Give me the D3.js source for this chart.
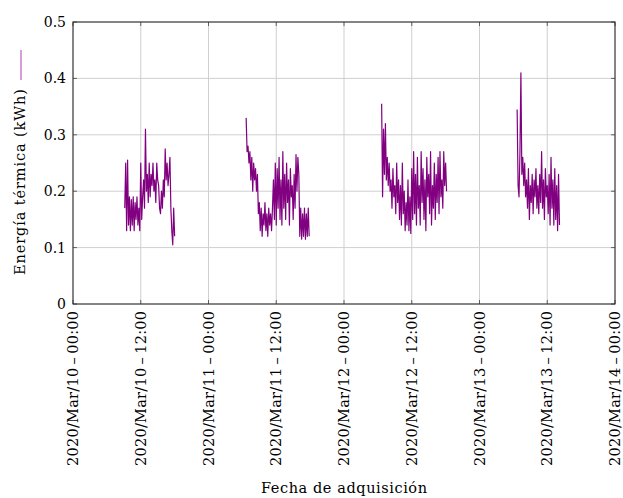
<!DOCTYPE html>
<html>
<head>
<meta charset="utf-8">
<script src="https://cdn.jsdelivr.net/npm/d3@7"></script>
<style>
  html, body { margin: 0; padding: 0; background: #fff; }
</style>
</head>
<body>
<svg id="chart" width="623" height="498"></svg>
<script>
// ---- data (10-minute readings, one block per acquisition day) ----
const stepMinutes = 10;
const dayStarts = ["2020-03-10T09:10:00Z", "2020-03-11T06:40:00Z", "2020-03-12T06:40:00Z", "2020-03-13T06:40:00Z"];
const day1 = [0.17,0.25,0.13,0.255,0.14,0.19,0.13,0.185,0.14,0.19,0.13,0.18,0.15,0.19,0.14,0.17,0.13,0.25,0.15,0.19,
  0.22,0.17,0.31,0.20,0.23,0.18,0.25,0.19,0.23,0.21,0.25,0.20,0.22,0.18,0.25,0.22,0.21,0.17,0.16,0.20,
  0.17,0.22,0.19,0.275,0.22,0.25,0.21,0.23,0.26,0.17,0.13,0.105,0.17,0.12];
const day2 = [0.33,0.27,0.28,0.25,0.27,0.22,0.26,0.20,0.25,0.22,0.24,0.20,0.23,
  0.16,0.18,0.13,0.17,0.12,0.16,0.14,0.18,0.13,0.16,0.12,0.17,0.14,0.16,0.13,0.17,
  0.22,0.15,0.25,0.14,0.24,0.17,0.26,0.15,0.22,0.14,0.27,0.17,0.23,0.15,0.25,0.18,0.22,0.14,0.24,0.19,0.21,0.15,0.23,0.17,0.265,0.20,0.26,
  0.23,0.12,0.17,0.115,0.16,0.12,0.17,0.115,0.16,0.12,0.17,0.12];
const day3 = [0.355,0.19,0.31,0.23,0.32,0.22,0.26,0.21,
  0.25,0.20,0.22,0.17,0.24,0.19,0.21,0.16,0.25,0.18,0.22,0.15,
  0.21,0.14,0.25,0.16,0.20,0.13,0.18,0.14,0.22,0.13,0.19,0.125,
  0.24,0.15,0.27,0.16,0.23,0.14,0.26,0.17,0.21,0.14,0.27,0.18,0.24,0.15,0.22,0.13,0.26,0.19,0.23,0.16,0.27,0.14,0.21,0.17,0.25,0.15,0.23,0.18,0.26,0.16,0.27,0.19,0.22,0.17,0.27,0.21,0.25,0.20];
const day4 = [0.345,0.21,0.19,0.27,0.41,0.23,0.26,0.21,0.25,0.19,0.22,0.17,0.24,0.15,0.21,0.18,0.23,0.16,0.22,0.19,
  0.24,0.17,0.21,0.16,0.23,0.18,0.27,0.17,0.22,0.15,0.24,0.19,0.21,0.16,0.23,0.14,0.26,0.17,0.22,0.14,
  0.24,0.15,0.21,0.13,0.23,0.14];
const dayValues = [day1, day2, day3, day4];

const xDomain = ["2020-03-10T00:00:00Z", "2020-03-14T00:00:00Z"];
const xTickTimes = ["2020-03-10T00:00:00Z","2020-03-10T12:00:00Z","2020-03-11T00:00:00Z","2020-03-11T12:00:00Z",
  "2020-03-12T00:00:00Z","2020-03-12T12:00:00Z","2020-03-13T00:00:00Z","2020-03-13T12:00:00Z","2020-03-14T00:00:00Z"];
const xTickLabels = ["2020/Mar/10\u2009\u2013\u200900:00","2020/Mar/10\u2009\u2013\u200912:00","2020/Mar/11\u2009\u2013\u200900:00","2020/Mar/11\u2009\u2013\u200912:00",
  "2020/Mar/12\u2009\u2013\u200900:00","2020/Mar/12\u2009\u2013\u200912:00","2020/Mar/13\u2009\u2013\u200900:00","2020/Mar/13\u2009\u2013\u200912:00","2020/Mar/14\u2009\u2013\u200900:00"];
const yTicks = [0, 0.1, 0.2, 0.3, 0.4, 0.5];
const yTickLabels = ["0", "0.1", "0.2", "0.3", "0.4", "0.5"];
const yTitle = "Energía térmica (kWh)";
const xTitle = "Fecha de adquisición";

// ---- layout ----
const FONT = "'DejaVu Serif', 'Liberation Serif', serif";
const L = 73, R = 615, T = 22, B = 304;
const svg = d3.select("#chart");
const x = d3.scaleUtc().domain(xDomain.map(d => new Date(d))).range([L, R]);
const y = d3.scaleLinear().domain([0, 0.5]).range([B, T]);

// grid
const gx = svg.append("g");
xTickTimes.forEach(t => {
  const xp = x(new Date(t));
  gx.append("line").attr("x1", xp).attr("x2", xp).attr("y1", T).attr("y2", B)
    .attr("stroke", "#cfcfcf").attr("stroke-width", 1);
});
yTicks.forEach(v => {
  gx.append("line").attr("x1", L).attr("x2", R).attr("y1", y(v)).attr("y2", y(v))
    .attr("stroke", "#cfcfcf").attr("stroke-width", 1);
});

// data lines
const line = d3.line().x(d => x(d.t)).y(d => y(d.v));
dayValues.forEach((vals, i) => {
  const t0 = new Date(dayStarts[i]).getTime();
  const pts = vals.map((v, k) => ({ t: new Date(t0 + k * stepMinutes * 60000), v }));
  svg.append("path").datum(pts).attr("d", line)
    .attr("fill", "none").attr("stroke", "#800080").attr("stroke-width", 1.2)
    .attr("stroke-linejoin", "round");
});

// ticks (inward, both sides)
const tk = svg.append("g").attr("stroke", "#444").attr("stroke-width", 0.8);
xTickTimes.forEach(t => {
  const xp = x(new Date(t));
  tk.append("line").attr("x1", xp).attr("x2", xp).attr("y1", B).attr("y2", B - 4);
  tk.append("line").attr("x1", xp).attr("x2", xp).attr("y1", T).attr("y2", T + 4);
});
yTicks.forEach(v => {
  tk.append("line").attr("x1", L).attr("x2", L + 4).attr("y1", y(v)).attr("y2", y(v));
  tk.append("line").attr("x1", R).attr("x2", R - 4).attr("y1", y(v)).attr("y2", y(v));
});

// frame
svg.append("rect").attr("x", L).attr("y", T).attr("width", R - L).attr("height", B - T)
  .attr("fill", "none").attr("stroke", "#222").attr("stroke-width", 1);

// y tick labels
yTicks.forEach((v, i) => {
  svg.append("text").attr("x", L - 7).attr("y", y(v)).attr("dy", "0.35em")
    .attr("font-family", FONT).attr("fill", "#000")
    .attr("text-anchor", "end").attr("font-size", 14).text(yTickLabels[i]);
});

// x tick labels (rotated)
xTickTimes.forEach((t, i) => {
  const xp = x(new Date(t));
  svg.append("text")
    .attr("transform", `translate(${xp},${B + 7}) rotate(-90)`)
    .attr("font-family", FONT).attr("fill", "#000")
    .attr("dy", "0.35em").attr("text-anchor", "end").attr("font-size", 14.5)
    .attr("textLength", 155).attr("lengthAdjust", "spacing")
    .text(xTickLabels[i]);
});

// y title with legend sample line
const yc = 182;
svg.append("text")
  .attr("transform", `translate(20,${yc}) rotate(-90)`)
  .attr("font-family", FONT).attr("fill", "#000")
  .attr("dy", "0.35em").attr("text-anchor", "middle").attr("font-size", 14.5)
  .attr("textLength", 186).attr("lengthAdjust", "spacing")
  .text(yTitle);
svg.append("line").attr("x1", 21).attr("x2", 21).attr("y1", 50).attr("y2", 80)
  .attr("stroke", "#b040b0").attr("stroke-width", 1);

// x title
svg.append("text").attr("x", (L + R) / 2).attr("y", 493).attr("text-anchor", "middle")
  .attr("font-family", FONT).attr("fill", "#000")
  .attr("font-size", 14.5).attr("textLength", 166).attr("lengthAdjust", "spacing").text(xTitle);
</script>
</body>
</html>
